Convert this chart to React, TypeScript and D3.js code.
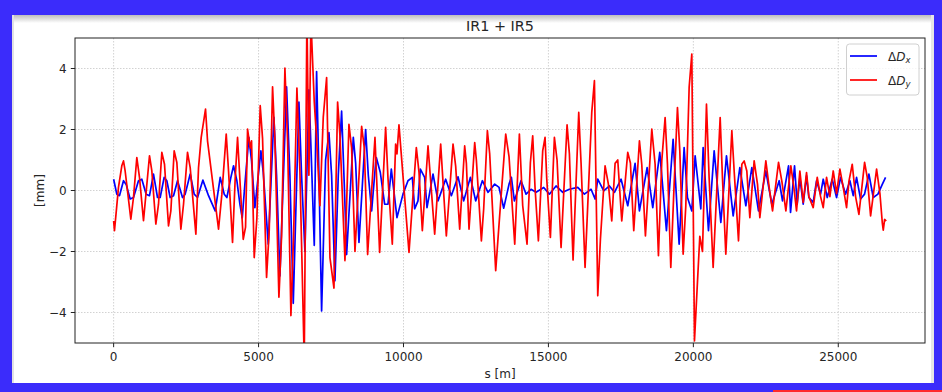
import React from "react";
import * as d3 from "d3";

// values: [s in m, delta in mm]
const dxData: [number, number][] = [
  [0, 0.37], [109, -0.12], [201, -0.17], [340, 0.32], [432, 0.2], [570, -0.28], [685, -0.23], [857, 0.32], [972, 0.37],
  [1122, -0.12], [1237, -0.17], [1375, 0.54], [1513, -0.23], [1605, -0.23], [1743, 0.43], [1835, 0.32], [1950, -0.23],
  [2066, -0.17], [2204, 0.32], [2376, -0.23], [2468, -0.12], [2641, 0.54], [2779, -0.12], [2894, -0.23], [3078, 0.34],
  [3274, -0.17], [3504, -0.67], [3677, 0.43], [3815, -0.12], [3907, -0.23], [4045, 0.43], [4137, 0.81], [4252, 0.32],
  [4356, -0.45], [4436, -0.9], [4528, 0.2], [4666, 1.74], [4758, 0.97], [4873, -0.56], [5080, 1.3], [5161, 0.6],
  [5334, -1.76], [5529, 2.4], [5621, 0.5], [5736, -2.8], [5966, 3.4], [6081, 0.5], [6197, -3.7], [6392, 2.9], [6484, 0.5],
  [6599, -2.0], [6738, 3.3], [6830, 0.8], [6922, -1.8], [7002, 3.9], [7083, 0.5], [7175, -3.95], [7313, 1.0], [7428, 1.9],
  [7520, 0.5], [7635, -2.96], [7750, 0.5], [7865, 2.6], [7957, 0.2], [8038, -2.1], [8268, 1.74], [8349, 0.9], [8464, -1.7],
  [8694, 2.0], [8786, 0.5], [8901, -0.67], [9039, 0.9], [9062, 1.08], [9200, 0.59], [9350, -0.45], [9465, -0.45],
  [9580, 0.7], [9775, -0.89], [9983, -0.12], [10155, 0.32], [10305, 0.43], [10385, -0.6], [10500, -0.34], [10581, 0.7],
  [10730, 0.43], [10811, -0.56], [11018, 0.54], [11191, -0.34], [11455, 0.37], [11651, -0.17], [11881, 0.45],
  [12077, -0.34], [12307, 0.43], [12491, -0.34], [12721, 0.32], [12917, -0.06], [13147, 0.21], [13297, 0.1],
  [13458, -0.58], [13642, 0.21], [13722, 0.43], [13825, -0.34], [14055, 0.32], [14228, -0.12], [14400, 0.04],
  [14573, -0.06], [14838, 0.1], [15033, -0.12], [15263, 0.15], [15494, -0.06], [15724, 0.04], [16011, 0.1],
  [16241, -0.12], [16472, 0.04], [16610, -0.28], [16702, 0.37], [16909, -0.01], [17105, 0.15], [17278, -0.06],
  [17507, 0.37], [17737, -0.5], [17990, 0.89], [18140, -0.67], [18405, 0.75], [18600, -0.56], [18842, 1.25],
  [19072, -1.32], [19302, 1.68], [19510, -1.76], [19682, 1.41], [19797, -0.23], [19947, -0.67], [20062, 1.14],
  [20258, -0.6], [20338, 1.41], [20522, -1.32], [20718, 1.3], [20948, -1.05], [21143, 1.14], [21374, -0.83],
  [21604, 0.75], [21811, -0.5], [22018, 0.75], [22248, -0.67], [22501, 0.64], [22708, -0.45], [22961, 0.32],
  [23076, -0.34], [23284, 0.81], [23353, -0.72], [23491, 0.81], [23583, -0.45], [23675, 0.43], [23790, -0.45],
  [23905, 0.48], [23986, -0.23], [24135, -0.39], [24251, 0.32], [24389, -0.12], [24481, 0.37], [24619, -0.23],
  [24791, 0.37], [24941, -0.23], [25079, 0.43], [25252, -0.12], [25401, 0.32], [25516, -0.17], [25631, 0.43],
  [25769, -0.28], [25907, -0.12], [26057, 0.54], [26207, -0.23], [26368, -0.12], [26518, 0.2], [26632, 0.43],
];

const dyData: [number, number][] = [
  [0, -1.0], [29, -1.32], [167, 0.1], [282, 0.81], [340, 0.97], [397, 0.64], [593, -0.94], [685, -0.23], [800, 1.08],
  [892, 0.43], [1030, -0.99], [1237, 1.14], [1318, 0.64], [1456, -1.1], [1548, -0.45], [1663, 1.25], [1755, 0.86],
  [1893, -1.16], [1974, -0.67], [2089, 1.3], [2181, 0.92], [2319, -1.27], [2411, -0.45], [2549, 1.25], [2641, 0.75],
  [2837, -1.43], [2929, 0.75], [3021, 1.74], [3170, 2.67], [3239, 1.63], [3619, -1.27], [3734, -0.12], [3884, 1.85],
  [3964, 0.64], [4102, -1.7], [4194, 0.4], [4275, 1.74], [4471, -1.6], [4551, -1.2], [4620, 2.01], [4712, 1.4],
  [4758, 1.63], [4850, -2.2], [4942, -0.9], [5057, 2.78], [5138, 1.7], [5276, -2.85], [5368, -1.3], [5483, 3.4],
  [5564, 1.63], [5702, -3.5], [5794, -1.5], [5909, 4.01], [6001, 1.63], [6116, -4.1], [6208, -1.5], [6323, 3.36],
  [6427, 0.6], [6576, -5.6], [6668, 5.8], [6737, 0.5], [6806, 5.6], [6922, 2.9], [7002, 1.7], [7117, -0.5], [7232, 2.4],
  [7348, 3.7], [7463, -2.2], [7601, -3.2], [7727, 2.9], [7808, 1.8], [7981, -2.3], [8118, 2.17], [8210, 1.4],
  [8326, -2.0], [8556, 2.1], [8648, 1.4], [8763, -2.1], [9016, 1.74], [9177, -2.03], [9384, 2.07], [9465, 0.4],
  [9614, -1.76], [9729, 1.52], [9775, 1.2], [9844, 2.15], [10190, -2.03], [10443, 1.41], [10535, 0.6], [10650, -1.32],
  [10846, 1.46], [11076, -1.43], [11283, 1.52], [11478, -1.49], [11709, 1.52], [11800, 0.8], [11939, -1.27],
  [12111, 1.46], [12169, 0.9], [12261, -1.27], [12457, 1.57], [12514, 1.0], [12687, -1.65], [12767, -0.6],
  [12894, 1.96], [12974, 1.2], [13181, -2.63], [13320, -0.8], [13527, 1.85], [13642, 1.1], [13838, -1.76],
  [13998, 1.85], [14113, -0.5], [14262, -1.76], [14377, 0.9], [14458, 1.79], [14538, 0.1], [14654, -1.65],
  [14803, 1.3], [14884, 1.74], [14941, 0.4], [15068, -1.54], [15206, 1.74], [15298, 1.0], [15436, -1.87],
  [15643, 2.15], [15724, 1.2], [15850, -2.28], [16046, 2.56], [16126, 0.9], [16264, -2.52], [16495, 2.56],
  [16587, 3.6], [16702, -3.45], [16794, -1.6], [16955, 0.81], [17070, 0.2], [17185, -1.0], [17300, 0.89],
  [17392, 1.0], [17530, -1.0], [17737, 1.25], [17829, 0.9], [17944, -1.32], [18140, 1.63], [18220, 0.86],
  [18347, -1.49], [18566, 2.01], [18681, 0.86], [18796, -2.14], [18911, 0.97], [19026, 2.39], [19107, 0.86],
  [19222, -2.52], [19337, 0.2], [19452, 2.72], [19533, 1.3], [19648, -2.09], [19740, -0.5], [19855, 3.38],
  [19947, 4.47], [20039, -4.93], [20142, -3.0], [20223, -1.5], [20315, -2.0], [20453, 2.83], [20545, 0.4],
  [20683, -2.52], [20925, 2.39], [21005, 0.4], [21120, -2.09], [21328, 1.96], [21408, 0.64], [21558, -1.65],
  [21673, 0.86], [21753, 0.97], [21845, 0.64], [21949, -0.89], [22098, 0.97], [22214, 0.2], [22294, -0.89],
  [22501, 0.97], [22616, 0.1], [22732, -0.67], [22939, 0.92], [23054, 0.3], [23192, -0.67], [23364, 0.81],
  [23468, 0.1], [23560, -0.67], [23675, 0.64], [23790, -0.39], [23905, 0.59], [23986, -0.2], [24135, -0.56],
  [24274, 0.43], [24389, -0.2], [24481, -0.56], [24596, 0.43], [24711, -0.2], [24826, 0.64], [24941, -0.1],
  [25056, 0.7], [25171, 0.1], [25286, -0.56], [25367, 0.3], [25482, 0.86], [25597, -0.2], [25712, -0.78],
  [25908, 0.92], [26000, 0.43], [26115, -0.83], [26322, 0.7], [26437, -0.1], [26518, -1.05], [26552, -1.3],
  [26599, -0.95], [26656, -1.0],
];

const xTicks = [0, 5000, 10000, 15000, 20000, 25000];
const yTicks = [-4, -2, 0, 2, 4];

const W = 942;
const H = 392;
const margin = { left: 75, right: 17, top: 38, bottom: 49 };
const font = "DejaVu Sans, sans-serif";

export default function App() {
  const x = d3.scaleLinear().domain([-1333, 27992]).range([margin.left, W - margin.right]);
  const y = d3.scaleLinear().domain([-5, 5]).range([H - margin.bottom, margin.top]);

  const line = d3
    .line<[number, number]>()
    .x((d) => x(d[0]))
    .y((d) => y(d[1]));

  const [x0, x1] = x.range();
  const [yb, yt] = y.range();

  return (
    <svg
      width={W}
      height={H}
      style={{ position: "absolute", left: 0, top: 0 }}
      fontFamily={font}
    >
      <defs>
        <clipPath id="plot">
          <rect x={x0} y={yt} width={x1 - x0} height={yb - yt} />
        </clipPath>
        <linearGradient id="shade" x1="0" y1="0" x2="0" y2="1">
          <stop offset="0" stopColor="#bdbdbd" />
          <stop offset="1" stopColor="#ffffff" />
        </linearGradient>
      </defs>

      {/* frame round the screenshot */}
      <rect x={0} y={0} width={W} height={H} fill="#3b2cfb" />
      <rect x={12} y={15} width={922} height={368} fill="#fff" />
      <rect x={12} y={15} width={922} height={8} fill="url(#shade)" />
      <rect x={12} y={15} width={2} height={368} fill="#e2e2e2" />
      <rect x={931} y={15} width={3} height={368} fill="#e6e6e6" />
      <rect x={773} y={390} width={169} height={2} fill="#ff2a2a" />

      {/* grid */}
      {xTicks.map((t) => (
        <line key={"gx" + t} x1={x(t)} x2={x(t)} y1={yt} y2={yb} stroke="#d2d2d2" strokeWidth={1} strokeDasharray="1.5,1.5" />
      ))}
      {yTicks.map((t) => (
        <line key={"gy" + t} x1={x0} x2={x1} y1={y(t)} y2={y(t)} stroke="#d2d2d2" strokeWidth={1} strokeDasharray="1.5,1.5" />
      ))}

      {/* series */}
      <g clipPath="url(#plot)">
        <path d={line(dxData) || ""} fill="none" stroke="#0000ff" strokeWidth={1.7} strokeLinejoin="round" />
        <path d={line(dyData) || ""} fill="none" stroke="#ff0000" strokeWidth={1.7} strokeLinejoin="round" />
      </g>

      {/* spines */}
      <rect x={x0} y={yt} width={x1 - x0} height={yb - yt} fill="none" stroke="#222" strokeWidth={1} />

      {/* ticks */}
      {xTicks.map((t) => (
        <g key={"tx" + t}>
          <line x1={x(t)} x2={x(t)} y1={yb} y2={yb + 4.2} stroke="#222" />
          <text x={x(t)} y={yb + 18} textAnchor="middle" fontSize={12} fill="#262626">
            {t}
          </text>
        </g>
      ))}
      {yTicks.map((t) => (
        <g key={"ty" + t}>
          <line x1={x0 - 4.2} x2={x0} y1={y(t)} y2={y(t)} stroke="#222" />
          <text x={x0 - 8.4} y={y(t) + 4.3} textAnchor="end" fontSize={12} fill="#262626">
            {t < 0 ? "\u2212" + Math.abs(t) : t}
          </text>
        </g>
      ))}

      {/* labels */}
      <text x={(x0 + x1) / 2} y={31} textAnchor="middle" fontSize={14.4} fill="#262626">
        IR1 + IR5
      </text>
      <text x={(x0 + x1) / 2} y={378} textAnchor="middle" fontSize={12} fill="#262626">
        s [m]
      </text>
      <text transform={`translate(44,${(yt + yb) / 2}) rotate(-90)`} textAnchor="middle" fontSize={12} fill="#262626">
        [mm]
      </text>

      {/* legend */}
      <rect x={846.5} y={44} width={72.5} height={51} rx={3} fill="#fff" fillOpacity={0.8} stroke="#d0d0d0" />
      <line x1={850} x2={877} y1={56} y2={56} stroke="#0000ff" strokeWidth={1.7} />
      <line x1={850} x2={877} y1={80} y2={80} stroke="#ff0000" strokeWidth={1.7} />
      <text x={888} y={60.5} fontSize={12} fill="#262626">
        Δ<tspan fontStyle="italic">D</tspan>
        <tspan fontStyle="italic" fontSize={8.5} dy={2.5}>x</tspan>
      </text>
      <text x={888} y={84.5} fontSize={12} fill="#262626">
        Δ<tspan fontStyle="italic">D</tspan>
        <tspan fontStyle="italic" fontSize={8.5} dy={2.5}>y</tspan>
      </text>
    </svg>
  );
}
